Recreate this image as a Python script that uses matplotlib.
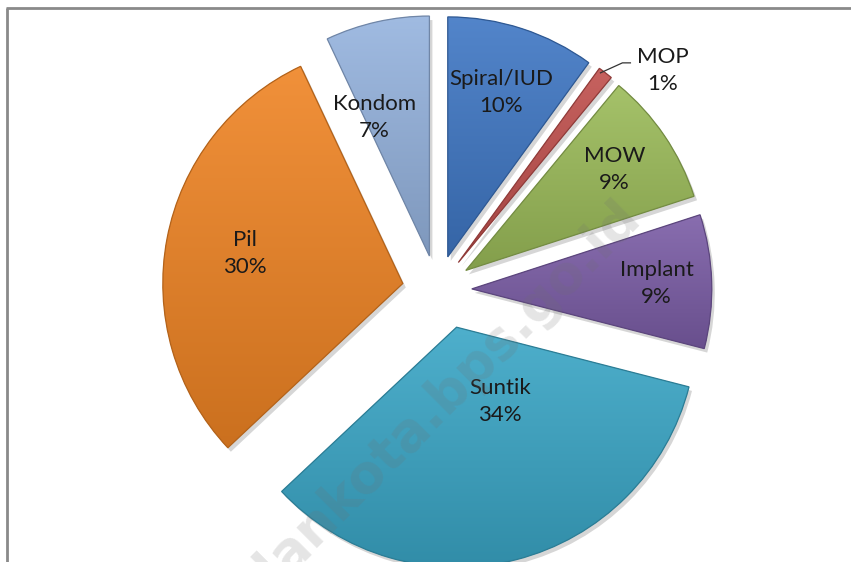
import numpy as np
import matplotlib
matplotlib.use("Agg")
import matplotlib.pyplot as plt
from matplotlib.colors import to_rgb
from matplotlib.patches import Wedge

# ---- data ----
categories = ["Spiral/IUD", "MOP", "MOW", "Implant", "Suntik", "Pil", "Kondom"]
values = [10, 1, 9, 9, 34, 30, 7]
colors = ["#3F77C4", "#C0504D", "#9BBB59", "#7B5DA6", "#3AA6C6", "#EF8424", "#95B3DE"]
explode_frac = [0.145, 0.145, 0.145, 0.145, 0.16, 0.145, 0.145]
label_r = [0.72, 1.0, 0.75, 0.77, 0.36, 0.67, 0.62]
label_dth = [0, 0, 0, 0, 16, 0, 9]

W, H = 851, 562
fig = plt.figure(figsize=(W / 100, H / 100), dpi=100)
ax = fig.add_axes([0, 0, 1, 1])
ax.set_axis_off()

cx, cy = 437, H - 290
R = 240

wedges, _ = ax.pie(values, colors=colors, startangle=90, counterclock=False,
                   explode=[e * R for e in explode_frac], radius=R, center=(cx, cy),
                   wedgeprops=dict(linewidth=0), normalize=True)

# shift Suntik slightly to the right as in reference
wedges[4].set_center((wedges[4].center[0] + 10, wedges[4].center[1]))

def mix(c, t, amt):
    c = np.array(to_rgb(c)); t = np.array(t)
    return c * (1 - amt) + t * amt

total = sum(values)
angles = []
a = 90.0
for v in values:
    span = 360.0 * v / total
    angles.append(a - span / 2)
    a -= span

for w, col in zip(wedges, colors):
    # shadow
    sh = Wedge((w.center[0] + 3, w.center[1] - 4), w.r, w.theta1, w.theta2,
               facecolor="#000000", alpha=0.16, linewidth=0, zorder=0.5)
    ax.add_patch(sh)
    w.set_zorder(1)
    ext = w.get_path().get_extents()
    n = 64
    top = mix(col, (1, 1, 1), 0.10)
    bot = mix(col, (0, 0, 0), 0.15)
    t = np.linspace(0, 1, n)[:, None]
    grad = bot[None, :] * (1 - t) + top[None, :] * t
    img = np.repeat(grad[:, None, :], 2, axis=1)
    im = ax.imshow(img, extent=(ext.x0, ext.x1, ext.y0, ext.y1), origin="lower",
                   aspect="auto", zorder=1.5, interpolation="bilinear")
    im.set_clip_path(w)
    edge = Wedge(w.center, w.r, w.theta1, w.theta2, facecolor="none",
                 edgecolor=mix(col, (0, 0, 0), 0.25), linewidth=0.9, zorder=2)
    ax.add_patch(edge)

# labels
font = dict(family=["Lato", "DejaVu Sans"], fontsize=16, color="#1a1a1a",
            ha="center", va="center", linespacing=1.45, zorder=5)
for i, (w, name, v) in enumerate(zip(wedges, categories, values)):
    th = np.deg2rad(angles[i] + label_dth[i])
    if name == "MOP":
        ox, oy = w.center[0] + R * np.cos(th), w.center[1] + R * np.sin(th)
        ax.plot([ox - 5, ox + 17, ox + 25], [oy, oy + 10, oy + 10],
                color="#333333", lw=0.9, zorder=5)
        ax.text(ox + 57, oy + 2, f"{name}\n{v}%", **font)
    else:
        lx = w.center[0] + label_r[i] * R * np.cos(th)
        ly = w.center[1] + label_r[i] * R * np.sin(th)
        ax.text(lx, ly, f"{name}\n{v}%", **font)

# border
ax.plot([7, 7], [-5, H - 8], color="#8a8a8a", lw=2, zorder=6, solid_capstyle="butt")
ax.plot([6, W + 5], [H - 8, H - 8], color="#8a8a8a", lw=2, zorder=6, solid_capstyle="butt")

# watermark
ax.text(632, H - 208, "medankota.bps.go.id", rotation=45, rotation_mode="anchor",
        ha="right", va="center", fontsize=38, fontweight="bold",
        family="DejaVu Sans", color="#707070", alpha=0.18, zorder=7)

ax.set_xlim(0, W)
ax.set_ylim(0, H)
fig.savefig("out.png", dpi=100)
